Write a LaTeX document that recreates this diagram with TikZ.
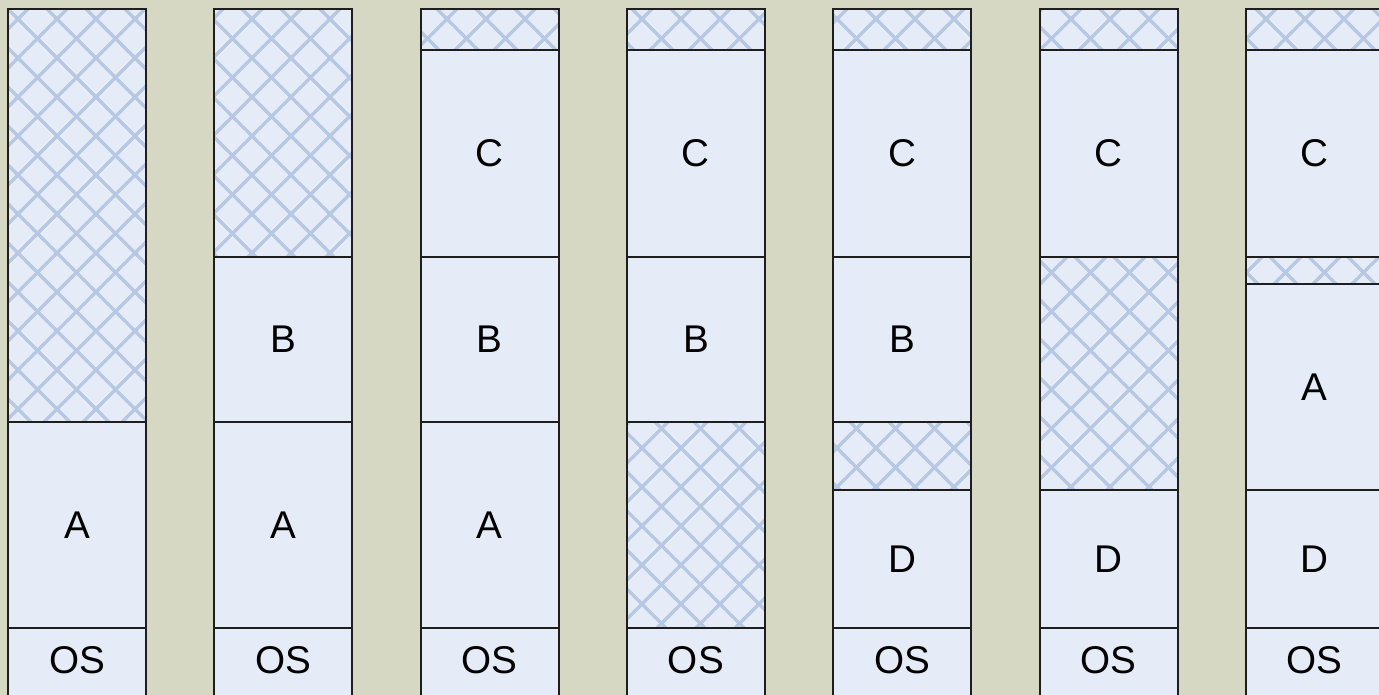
\documentclass[tikz,border=0pt]{standalone}
\usepackage{fontspec}
\setmainfont{Liberation Sans}
\definecolor{bg}{HTML}{D6D8C4}
\definecolor{memfill}{HTML}{E6ECF7}
\definecolor{hatch}{HTML}{B6C8E3}
\definecolor{edge}{HTML}{1E1E1E}
\tikzset{
  memblock/.style={draw=edge, line width=1.1pt, fill=memfill, inner sep=0pt, outer sep=0pt,
    font=\fontsize{29}{34}\selectfont, text=black},
  oslabel/.style={draw=none, fill=none, inner sep=0pt, outer sep=0pt,
    font=\fontsize{29}{34}\selectfont, text=black},
  hatchline/.style={draw=hatch, line width=2.5pt},
  edgeline/.style={draw=edge, line width=1.1pt},
  colframe/.style={draw=edge, line width=1.5pt},
}
\newcommand\mblock[5]{%
  \node[memblock, minimum width=103.5pt, minimum height={(#4-#3)*0.75pt}] (#1) at ({#2+69},{(#3+#4)/2}) {#5};}
\newcommand\fblock[4]{%
  \node[memblock, minimum width=103.5pt, minimum height={(#4-#3)*0.75pt}] (#1) at ({#2+69},{(#3+#4)/2}) {};
  \begin{scope}
    \clip (#1.north west) rectangle (#1.south east);
    \foreach \hc in {-703,-664,...,1400} \draw[hatchline] (\hc,0) -- ++(760,760);
    \foreach \hc in {-2,37,...,2110} \draw[hatchline] (\hc,0) -- ++(-760,760);
  \end{scope}
  \draw[edgeline] (#1.north west) rectangle (#1.south east);}
\newcommand\oslbl[2]{\node[oslabel] (#1) at ({#2+69},660) {OS};}
\newcommand\colbg[1]{\fill[memfill] (#1,9) rectangle ({#1+138},720);}
\newcommand\colfr[1]{\draw[colframe] (#1,9) rectangle ({#1+138},720);}
\begin{document}
\begin{tikzpicture}[x=0.75pt,y=-0.75pt]
\useasboundingbox (0,0) rectangle (1379,695);
\fill[bg] (0,0) rectangle (1379,695);
\clip (0,0) rectangle (1379,695);
% column 1
\colbg{8}
\fblock{c1f}{8}{9}{422}
\mblock{c1a}{8}{422}{628}{A}
\oslbl{c1os}{8}
\colfr{8}
% column 2
\colbg{214.3}
\fblock{c2f}{214.3}{9}{257}
\mblock{c2b}{214.3}{257}{422}{B}
\mblock{c2a}{214.3}{422}{628}{A}
\oslbl{c2os}{214.3}
\colfr{214.3}
% column 3
\colbg{420.6}
\fblock{c3f}{420.6}{9}{50}
\mblock{c3c}{420.6}{50}{257}{C}
\mblock{c3b}{420.6}{257}{422}{B}
\mblock{c3a}{420.6}{422}{628}{A}
\oslbl{c3os}{420.6}
\colfr{420.6}
% column 4
\colbg{626.9}
\fblock{c4f}{626.9}{9}{50}
\mblock{c4c}{626.9}{50}{257}{C}
\mblock{c4b}{626.9}{257}{422}{B}
\fblock{c4g}{626.9}{422}{628}
\oslbl{c4os}{626.9}
\colfr{626.9}
% column 5
\colbg{833.2}
\fblock{c5f}{833.2}{9}{50}
\mblock{c5c}{833.2}{50}{257}{C}
\mblock{c5b}{833.2}{257}{422}{B}
\fblock{c5g}{833.2}{422}{490}
\mblock{c5d}{833.2}{490}{628}{D}
\oslbl{c5os}{833.2}
\colfr{833.2}
% column 6
\colbg{1039.5}
\fblock{c6f}{1039.5}{9}{50}
\mblock{c6c}{1039.5}{50}{257}{C}
\fblock{c6g}{1039.5}{257}{490}
\mblock{c6d}{1039.5}{490}{628}{D}
\oslbl{c6os}{1039.5}
\colfr{1039.5}
% column 7
\colbg{1245.8}
\fblock{c7f}{1245.8}{9}{50}
\mblock{c7c}{1245.8}{50}{257}{C}
\fblock{c7g}{1245.8}{257}{284}
\mblock{c7a}{1245.8}{284}{490}{A}
\mblock{c7d}{1245.8}{490}{628}{D}
\oslbl{c7os}{1245.8}
\colfr{1245.8}
\end{tikzpicture}
\end{document}
